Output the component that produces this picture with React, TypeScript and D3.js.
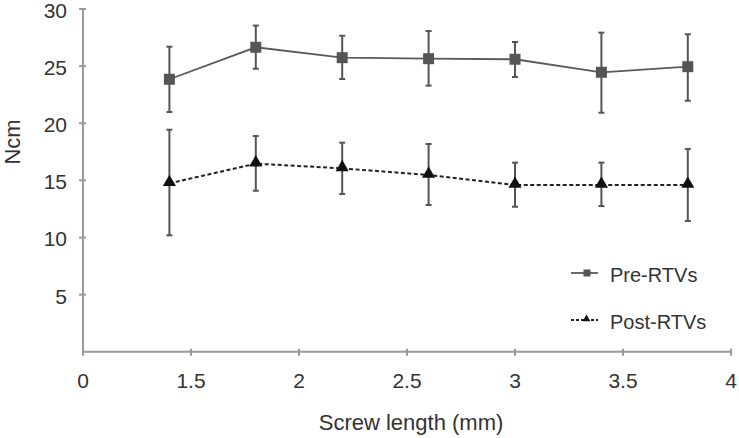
import React from "react";
import * as d3 from "d3";

// x tick labels (evenly spaced on the axis)
const xTickLabels = ["0", "1.5", "2", "2.5", "3", "3.5", "4"];
const yTicks = [5, 10, 15, 20, 25, 30];
// positions of the 7 measurements along the axis, in tick-index units
const pointPositions = [0.8, 1.6, 2.4, 3.2, 4.0, 4.8, 5.6];

const preMean = [23.85, 26.65, 25.74, 25.65, 25.6, 24.46, 24.95];
const preUpper = [26.7, 28.55, 27.66, 28.07, 27.11, 27.93, 27.79];
const preLower = [20.98, 24.77, 23.87, 23.29, 24.05, 20.92, 21.97];

const postMean = [14.74, 16.46, 16.05, 15.47, 14.59, 14.59, 14.59];
const postUpper = [19.43, 18.88, 18.3, 18.18, 16.55, 16.55, 17.74];
const postLower = [10.19, 14.09, 13.8, 12.84, 12.69, 12.75, 11.44];

const seriesNames = ["Pre-RTVs", "Post-RTVs"];

const W = 739;
const H = 438;
const FONT = "'Liberation Sans', Arial, Helvetica, sans-serif";
const TEXT = "#333";
const AXIS = "#9a9a9a";

export default function App() {
  const x = d3.scaleLinear().domain([0, 6]).range([83, 731]);
  const y = d3.scaleLinear().domain([0, 30]).range([351.7, 9]);

  const line = d3
    .line<number>()
    .x((_, i) => x(pointPositions[i]))
    .y((d) => y(d));

  const tri = d3.symbol().type(d3.symbolTriangle).size(75)() as string;
  const triSmall = d3.symbol().type(d3.symbolTriangle).size(26)() as string;

  const errorBars = (upper: number[], lower: number[], key: string) =>
    upper.map((u, i) => {
      const cx = x(pointPositions[i]);
      return (
        <g key={key + i} stroke="#555" strokeWidth={2}>
          <line x1={cx} x2={cx} y1={y(u)} y2={y(lower[i])} />
          <line x1={cx - 3} x2={cx + 3} y1={y(u)} y2={y(u)} />
          <line x1={cx - 3} x2={cx + 3} y1={y(lower[i])} y2={y(lower[i])} />
        </g>
      );
    });

  return (
    <svg
      width={W}
      height={H}
      style={{ position: "absolute", left: 0, top: 0, background: "#fff" }}
      fontFamily={FONT}
    >
      {/* axes */}
      <g stroke={AXIS} strokeWidth={2}>
        <line x1={x(0)} x2={x(0)} y1={y(0)} y2={y(30)} />
        <line x1={x(0)} x2={x(6)} y1={y(0)} y2={y(0)} />
        {yTicks.map((t) => (
          <line key={"yt" + t} x1={x(0) - 4} x2={x(0) + 3} y1={y(t)} y2={y(t)} />
        ))}
        {xTickLabels.map((_, i) => (
          <line key={"xt" + i} x1={x(i)} x2={x(i)} y1={y(0) - 3} y2={y(0) + 4} />
        ))}
      </g>

      {/* y tick labels */}
      {yTicks.map((t) => (
        <text
          key={"yl" + t}
          x={67}
          y={y(t) + 9}
          textAnchor="end"
          fontSize={21}
          fill={TEXT}
        >
          {t}
        </text>
      ))}
      {/* x tick labels */}
      {xTickLabels.map((l, i) => (
        <text
          key={"xl" + i}
          x={x(i)}
          y={388}
          textAnchor="middle"
          fontSize={21}
          fill={TEXT}
        >
          {l}
        </text>
      ))}

      {/* axis titles */}
      <text x={411} y={430} textAnchor="middle" fontSize={22} fill={TEXT}>
        Screw length (mm)
      </text>
      <text
        transform="translate(20,142) rotate(-90)"
        textAnchor="middle"
        fontSize={22}
        fill={TEXT}
      >
        Ncm
      </text>

      {/* error bars */}
      {errorBars(preUpper, preLower, "pe")}
      {errorBars(postUpper, postLower, "po")}

      {/* lines */}
      <path d={line(preMean) as string} fill="none" stroke="#5a5a5a" strokeWidth={1.8} />
      <path
        d={line(postMean) as string}
        fill="none"
        stroke="#222"
        strokeWidth={2}
        strokeDasharray="4,2.5"
      />

      {/* markers */}
      {preMean.map((v, i) => (
        <rect
          key={"pm" + i}
          x={x(pointPositions[i]) - 5.5}
          y={y(v) - 5.5}
          width={11}
          height={11}
          fill="#555"
        />
      ))}
      {postMean.map((v, i) => (
        <path
          key={"tm" + i}
          d={tri}
          transform={`translate(${x(pointPositions[i])},${y(v) - 1})`}
          fill="#111"
        />
      ))}

      {/* legend */}
      <g>
        <line x1={571} x2={598} y1={273} y2={273} stroke="#5a5a5a" strokeWidth={1.8} />
        <rect x={583.5} y={269.5} width={7} height={7} fill="#555" />
        <text x={610} y={282} fontSize={20} fill={TEXT}>
          {seriesNames[0]}
        </text>
        <line
          x1={571}
          x2={598}
          y1={320}
          y2={320}
          stroke="#222"
          strokeWidth={1.8}
          strokeDasharray="3,2"
        />
        <path d={triSmall} transform="translate(586.5,319)" fill="#111" />
        <text x={610} y={329} fontSize={20} fill={TEXT}>
          {seriesNames[1]}
        </text>
      </g>
    </svg>
  );
}
